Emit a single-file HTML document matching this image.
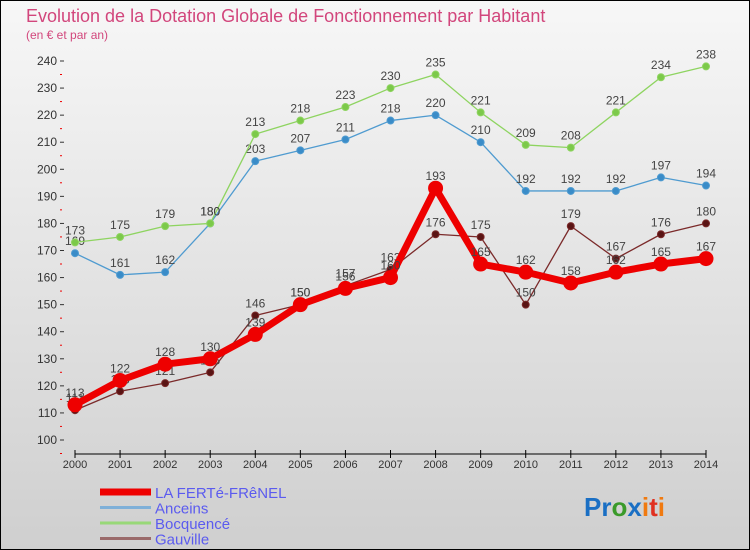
<!DOCTYPE html>
<html><head><meta charset="utf-8"><style>
body{margin:0;}
#c{width:750px;height:550px;position:relative;overflow:hidden;font-family:"Liberation Sans",sans-serif;}
</style></head><body>
<div id="c">
<svg id="s" width="750" height="550" xmlns="http://www.w3.org/2000/svg">
<defs><linearGradient id="bg" x1="0" y1="0" x2="0" y2="1"><stop offset="0" stop-color="#f7f7f7"/><stop offset="1" stop-color="#cfcfcf"/></linearGradient></defs>
<rect x="0.5" y="0.5" width="749" height="549" fill="url(#bg)" stroke="#000"/>
<text x="26" y="22" font-size="18" fill="#d2467c">Evolution de la Dotation Globale de Fonctionnement par Habitant</text>
<text x="26" y="39" font-size="12" fill="#d2467c">(en € et par an)</text>
<g id="axes"></g><g id="series"></g><g id="legend"></g>
<text x="584" y="516" font-size="26" font-weight="bold"><tspan fill="#1a6fc4">Pr</tspan><tspan fill="#3a9a2a">o</tspan><tspan fill="#1a6fc4">x</tspan><tspan fill="#f07a10">i</tspan><tspan fill="#e03020">t</tspan><tspan fill="#f07a10">i</tspan></text>
</svg></div>
<script>
const years=[2000,2001,2002,2003,2004,2005,2006,2007,2008,2009,2010,2011,2012,2013,2014];
const yTicks=[100,110,120,130,140,150,160,170,180,190,200,210,220,230,240];
const ferte=[113,122,128,130,139,150,156,160,193,165,162,158,162,165,167];
const anceins=[169,161,162,180,203,207,211,218,220,210,192,192,192,197,194];
const bocquence=[173,175,179,180,213,218,223,230,235,221,209,208,221,234,238];
const gauville=[111,118,121,125,146,150,157,163,176,175,150,179,167,176,180];
const NS="http://www.w3.org/2000/svg";
function X(i){return 75+i*(706-75)/14;}
function Y(v){return 440-(v-100)*(440-61)/140;}
function mk(t,a,p){const e=document.createElementNS(NS,t);for(const k in a)e.setAttribute(k,a[k]);p.appendChild(e);return e;}
const ax=document.getElementById('axes');
for(const v of yTicks){
 const t=mk('text',{x:57,y:Y(v)+4,'font-size':12,fill:'#333','text-anchor':'end'},ax);t.textContent=v;
 
 
 mk('line',{x1:60,x2:64,y1:Y(v),y2:Y(v),stroke:'#333'},ax);
 mk('line',{x1:60,x2:62,y1:Y(v)+13.5,y2:Y(v)+13.5,stroke:'#e00'},ax);
}
mk('line',{x1:75,x2:706,y1:454,y2:454,stroke:'#000'},ax);
years.forEach((y,i)=>{mk('line',{x1:X(i),x2:X(i),y1:450,y2:458,stroke:'#000'},ax);
 const t=mk('text',{x:X(i),y:468,'font-size':11,fill:'#333','text-anchor':'middle'},ax);t.textContent=y;
 
 });
const sg=document.getElementById('series');
function series(name,vals,col,w,r,dot){
 const g=mk('g',{},sg);
 
 
 mk('polyline',{points:vals.map((v,i)=>X(i)+','+Y(v)).join(' '),fill:'none',stroke:col,'stroke-width':w,'stroke-linejoin':'round'},g);
 vals.forEach((v,i)=>{const c=mk('circle',{cx:X(i),cy:Y(v),r:r,fill:dot,stroke:col,'stroke-width':1},g);
  
  
  const t=mk('text',{x:X(i),y:Y(v)-8,'font-size':12,fill:'#444','text-anchor':'middle'},g);t.textContent=v;
  
  });
}
series('series-anceins',anceins,'#4f9bd0',1.3,3.5,'#3a8cc8');
series('series-bocquence',bocquence,'#8ed460',1.3,3.5,'#7cc94a');
series('series-gauville',gauville,'#7b2a2a',1.3,3.5,'#5a1414');
series('series-la-ferte-frenel',ferte,'#ee0000',7,7,'#ee0000');
const lg=document.getElementById('legend');
const items=[['LA FERTé-FRêNEL','#ee0000',7],['Anceins','#7fb0d8',3],['Bocquencé','#98d878',3],['Gauville','#9a6a6a',3]];
items.forEach((it,i)=>{const g=mk('g',{},lg);
 
 
 const y=492+i*15.5;
 mk('line',{x1:100,x2:151,y1:y,y2:y,stroke:it[1],'stroke-width':it[2]},g);
 const t=mk('text',{x:155,y:y+6,'font-size':15,fill:'#5b5bef'},g);t.textContent=it[0];});
</script>
</body></html>
